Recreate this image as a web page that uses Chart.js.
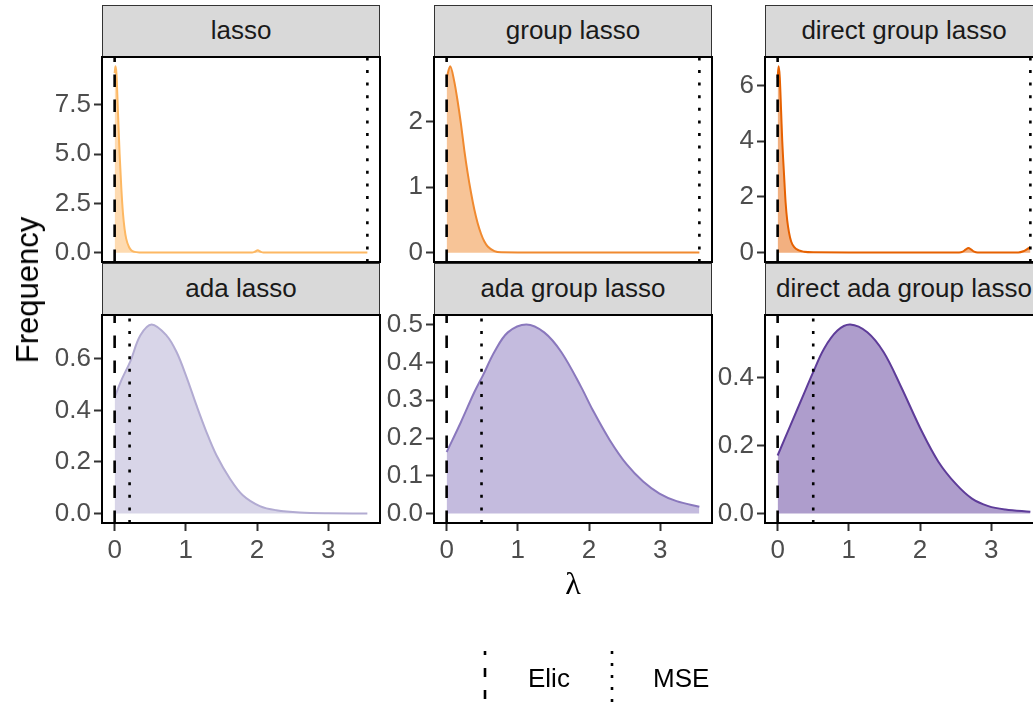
<!DOCTYPE html>
<html>
<head>
<meta charset="utf-8">
<script src="https://cdn.jsdelivr.net/npm/chart.js@4.4.0/dist/chart.umd.min.js"></script>
<style>
  html, body { margin: 0; padding: 0; background: #fff; }
  body { position: relative; width: 1033px; height: 704px; overflow: hidden; font-family: "Liberation Sans", Arial, sans-serif; }
  canvas { position: absolute; }
  .strip { position: absolute; box-sizing: border-box; background: #d9d9d9; border: 1.5px solid #333; color: #1a1a1a;
           font-size: 26px; text-align: center; white-space: nowrap; overflow: hidden; }
  .lbl { position: absolute; white-space: nowrap; }
</style>
</head>
<body>
<script>
// facet names
const panelNames = ['lasso', 'group lasso', 'direct group lasso', 'ada lasso', 'ada group lasso', 'direct ada group lasso'];

// density curves (lambda, frequency)
const lassoX = [0, 0.012, 0.025, 0.045, 0.07, 0.095, 0.117, 0.14, 0.163, 0.2, 0.233, 0.28, 0.35, 0.6, 1.0, 1.5, 1.93, 1.97, 2.01, 2.05, 2.09, 2.5, 3.0, 3.55];
const lassoY = [9.1, 9.45, 9.1, 7.3, 5.0, 3.2, 2.0, 1.2, 0.7, 0.3, 0.12, 0.04, 0.015, 0.01, 0.01, 0.01, 0.01, 0.05, 0.12, 0.05, 0.01, 0.01, 0.01, 0.01];

const groupX = [0, 0.05, 0.107, 0.154, 0.201, 0.248, 0.295, 0.342, 0.389, 0.436, 0.483, 0.53, 0.577, 0.671, 0.765, 1.0, 2.0, 3.0, 3.55];
const groupY = [2.67, 2.85, 2.62, 2.32, 1.97, 1.57, 1.22, 0.92, 0.66, 0.45, 0.29, 0.17, 0.095, 0.025, 0.005, 0.003, 0.003, 0.003, 0.003];

const directX = [0, 0.014, 0.03, 0.05, 0.065, 0.09, 0.112, 0.135, 0.159, 0.19, 0.23, 0.3, 0.37, 0.5, 1.0, 2.0, 2.55, 2.6, 2.64, 2.68, 2.72, 2.76, 2.81, 3.0, 3.38, 3.45, 3.5, 3.55];
const directY = [6.27, 6.69, 6.3, 5.0, 4.0, 2.8, 1.8, 1.15, 0.74, 0.4, 0.21, 0.08, 0.035, 0.015, 0.01, 0.01, 0.01, 0.04, 0.11, 0.17, 0.11, 0.04, 0.01, 0.01, 0.01, 0.05, 0.12, 0.2];

const adaX = [0, 0.1, 0.22, 0.36, 0.52, 0.73, 0.87, 1.01, 1.15, 1.29, 1.43, 1.62, 1.8, 2.04, 2.27, 2.6, 3.0, 3.55];
const adaY = [0.451, 0.52, 0.59, 0.69, 0.733, 0.69, 0.626, 0.529, 0.419, 0.316, 0.226, 0.135, 0.071, 0.029, 0.013, 0.004, 0.001, 0.0005];

const adaGroupX = [0, 0.2, 0.39, 0.51, 0.67, 0.86, 1.12, 1.37, 1.61, 1.89, 2.05, 2.29, 2.53, 2.76, 2.99, 3.23, 3.55];
const adaGroupY = [0.163, 0.242, 0.322, 0.366, 0.428, 0.48, 0.501, 0.48, 0.428, 0.335, 0.275, 0.195, 0.13, 0.085, 0.053, 0.033, 0.018];

const adaDirectX = [0, 0.18, 0.37, 0.49, 0.65, 0.84, 1.02, 1.26, 1.49, 1.73, 2.03, 2.26, 2.5, 2.73, 2.96, 3.2, 3.55];
const adaDirectY = [0.171, 0.26, 0.353, 0.412, 0.485, 0.539, 0.557, 0.534, 0.475, 0.375, 0.24, 0.152, 0.088, 0.044, 0.022, 0.012, 0.005];

// reference lines
const elicLambda = [0, 0, 0, 0, 0, 0];
const mseLambda = [3.55, 3.55, 3.55, 0.21, 0.49, 0.5];

// ticks
const xTicks = [0, 1, 2, 3];
const yTicks = [[0, 2.5, 5, 7.5], [0, 1, 2], [0, 2, 4, 6], [0, 0.2, 0.4, 0.6], [0, 0.1, 0.2, 0.3, 0.4, 0.5], [0, 0.2, 0.4]];
const yTickLabels = [['0.0', '2.5', '5.0', '7.5'], ['0', '1', '2'], ['0', '2', '4', '6'],
                     ['0.0', '0.2', '0.4', '0.6'], ['0.0', '0.1', '0.2', '0.3', '0.4', '0.5'], ['0.0', '0.2', '0.4']];

const lineColors = ['#fdb863', '#f08a30', '#e66101', '#b2abd2', '#8a78bd', '#5e3c99'];
const fillColors = ['rgba(253,184,99,0.5)', 'rgba(240,138,48,0.5)', 'rgba(230,97,1,0.5)',
                    'rgba(178,171,210,0.5)', 'rgba(138,120,189,0.5)', 'rgba(94,60,153,0.5)'];

const seriesX = [lassoX, groupX, directX, adaX, adaGroupX, adaDirectX];
const seriesY = [lassoY, groupY, directY, adaY, adaGroupY, adaDirectY];

// layout
const colX = [102, 434, 765];
const panelW = 278;
const rowY = [57, 315];
const panelH = [205, 208];
const stripTop = [5, 263];
const AXW = 80, PAD = 3, XAXH = 45;
const tickFont = { family: 'Liberation Sans', size: 26 };

const frame = {
  id: 'frame',
  afterDraw(chart) {
    const a = chart.chartArea, c = chart.ctx;
    c.save();
    c.strokeStyle = '#000';
    c.lineWidth = 2;
    c.strokeRect(a.left, a.top, a.right - a.left, a.bottom - a.top);
    c.restore();
  }
};

function addText(txt, css) {
  const d = document.createElement('div');
  d.className = 'lbl';
  d.textContent = txt;
  Object.assign(d.style, css);
  document.body.appendChild(d);
  return d;
}

panelNames.forEach((name, i) => {
  const col = i % 3, row = Math.floor(i / 3);

  const s = document.createElement('div');
  s.className = 'strip';
  s.textContent = name;
  Object.assign(s.style, {
    left: colX[col] + 'px', top: stripTop[row] + 'px', width: panelW + 'px',
    height: (rowY[row] - stripTop[row]) + 'px', lineHeight: (rowY[row] - stripTop[row] - 3) + 'px'
  });
  document.body.appendChild(s);

  const cv = document.createElement('canvas');
  const w = AXW + panelW + PAD;
  const h = PAD + panelH[row] + (row === 1 ? XAXH : PAD);
  cv.width = w; cv.height = h;
  cv.style.left = (colX[col] - AXW) + 'px';
  cv.style.top = (rowY[row] - PAD) + 'px';
  document.body.appendChild(cv);

  const xs = seriesX[i], ys = seriesY[i];
  const xMax = Math.max(...xs), yMax = Math.max(...ys);
  const xLo = -0.05 * xMax, xHi = 1.05 * xMax;
  const yLo = -0.05 * yMax, yHi = 1.05 * yMax;

  const curve = row === 0
    ? { cubicInterpolationMode: 'monotone' }
    : { tension: 0.35 };

  new Chart(cv, {
    type: 'line',
    data: {
      datasets: [
        { data: [{ x: elicLambda[i], y: yLo }, { x: elicLambda[i], y: yHi }], borderColor: '#000', borderWidth: 2.6,
          borderDash: [12.5, 12.5], pointRadius: 0, fill: false, order: 0 },
        { data: [{ x: mseLambda[i], y: yLo }, { x: mseLambda[i], y: yHi }], borderColor: '#000', borderWidth: 2.6,
          borderDash: [3, 9.6], pointRadius: 0, fill: false, order: 0 },
        Object.assign({ data: xs.map((x, k) => ({ x, y: ys[k] })), borderColor: lineColors[i], backgroundColor: fillColors[i],
          borderWidth: 2, pointRadius: 0, fill: 'origin', order: 1 }, curve)
      ]
    },
    options: {
      responsive: false, animation: false, devicePixelRatio: 1,
      layout: { padding: { left: 0, top: PAD, right: PAD, bottom: row === 1 ? 0 : PAD } },
      plugins: { legend: { display: false }, tooltip: { enabled: false } },
      scales: {
        x: {
          type: 'linear', min: xLo, max: xHi, display: row === 1,
          afterBuildTicks: sc => { sc.ticks = xTicks.map(v => ({ value: v })); },
          afterFit: sc => { sc.height = row === 1 ? XAXH : 0; sc.paddingLeft = 0; sc.paddingRight = 0; },
          ticks: { font: tickFont, color: '#4d4d4d', padding: 4, autoSkip: false, maxRotation: 0, callback: v => String(v) },
          grid: { drawOnChartArea: false, tickLength: 8, tickWidth: 2, tickColor: '#333' },
          border: { display: false }
        },
        y: {
          type: 'linear', min: yLo, max: yHi,
          afterBuildTicks: sc => { sc.ticks = yTicks[i].map(v => ({ value: v })); },
          afterFit: sc => { sc.width = AXW; sc.paddingTop = 0; sc.paddingBottom = 0; },
          ticks: { font: tickFont, color: '#4d4d4d', padding: 3, autoSkip: false, callback: (v, k) => yTickLabels[i][k] },
          grid: { drawOnChartArea: false, tickLength: 8, tickWidth: 2, tickColor: '#333' },
          border: { display: false }
        }
      }
    },
    plugins: [frame]
  });
});

// axis titles
addText('Frequency', { fontSize: '31px', color: '#000', left: '28px', top: '290px',
  transform: 'translate(-50%, -50%) rotate(-90deg)' });
addText('\u03bb', { fontSize: '32px', color: '#000', left: '573px', top: '583px',
  transform: 'translate(-50%, -50%)', fontFamily: '"Liberation Serif", serif' });

// legend
const ns = 'http://www.w3.org/2000/svg';
const svg = document.createElementNS(ns, 'svg');
svg.setAttribute('width', '1033'); svg.setAttribute('height', '704');
svg.style.position = 'absolute'; svg.style.left = '0'; svg.style.top = '0';
[[485, '9 13', 5], [612, '3 9', 0]].forEach(([x, dash, off]) => {
  const l = document.createElementNS(ns, 'line');
  l.setAttribute('x1', x); l.setAttribute('x2', x); l.setAttribute('y1', 651); l.setAttribute('y2', 710);
  l.setAttribute('stroke', '#000'); l.setAttribute('stroke-width', '2.6');
  l.setAttribute('stroke-dasharray', dash); l.setAttribute('stroke-dashoffset', off);
  svg.appendChild(l);
});
document.body.appendChild(svg);
addText('Elic', { fontSize: '26px', color: '#000', left: '528px', top: '678px', transform: 'translateY(-50%)' });
addText('MSE', { fontSize: '26px', color: '#000', left: '653px', top: '678px', transform: 'translateY(-50%)' });
</script>
</body>
</html>
